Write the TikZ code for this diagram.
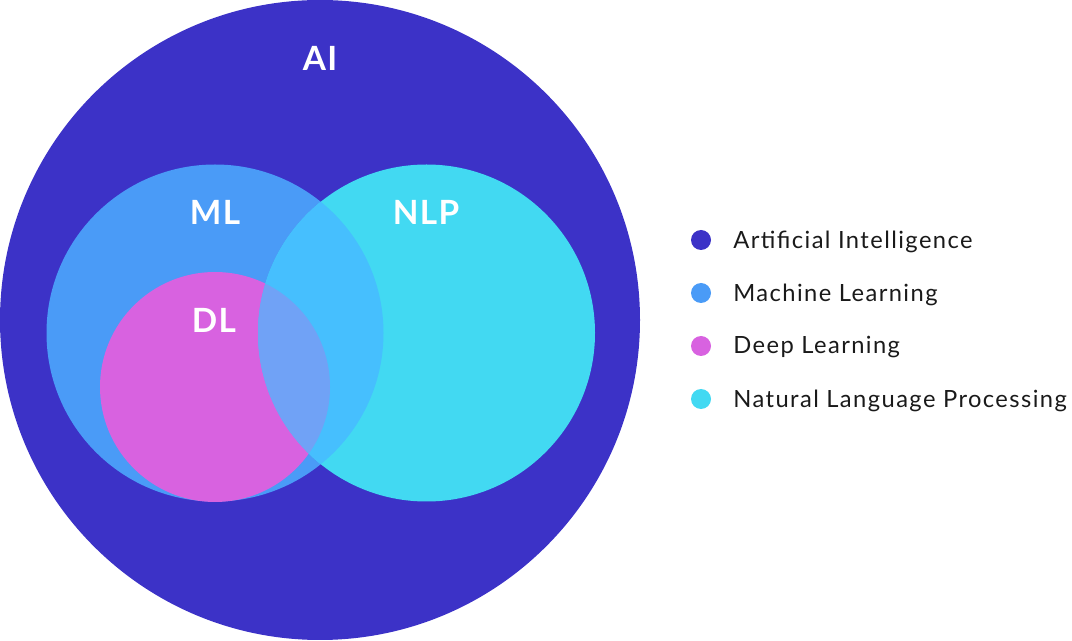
\documentclass[tikz,border=0pt]{standalone}
\usepackage{fontspec}
\setmainfont{Lato}[LetterSpace=4]
\usepackage{xcolor}
\usetikzlibrary{positioning}
\definecolor{aicol}{HTML}{3C32C7}
\definecolor{mlcol}{HTML}{4A9BF7}
\definecolor{dlcol}{HTML}{D862E0}
\definecolor{nlpcol}{HTML}{42D9F2}
\definecolor{mlnlpcol}{HTML}{46BFFE}
\definecolor{dlnlpcol}{HTML}{70A2F6}
\definecolor{legendtext}{HTML}{1A1A1A}

\begin{document}
\begin{tikzpicture}[x=0.02cm,y=-0.02cm]
            \tikzset{setlabel/.style={text=white,font=\fontsize{19}{22}\selectfont\bfseries,inner sep=0pt},
                     legenddot/.style={circle,inner sep=0pt,minimum size=0.4cm},
                     legendlabel/.style={text=legendtext,font=\fontsize{13.5}{16}\selectfont\addfontfeatures{LetterSpace=6},inner sep=0pt,anchor=west}}
            \useasboundingbox (0,0) rectangle (1072,641);
            % sets
            \fill [aicol] (320,320) circle (320);
            \fill [mlcol] (215,333) circle (168.5);
            \fill [nlpcol] (426.5,333) circle (168.5);
            \fill [dlcol] (215,387) circle (115);
            \begin{scope}
            \clip (426.5,333) circle (168.5);
            \fill [mlnlpcol] (215,333) circle (168.5);
            \fill [dlnlpcol] (215,387) circle (115);
            \end{scope}
            % set names
            \node [setlabel] (ai) at (320,58) {AI};
            \node [setlabel] (ml) at (215,212) {ML};
            \node [setlabel] (nlp) at (426,212) {NLP};
            \node [setlabel] (dl) at (214,320) {DL};
            % legend
            \node [legenddot,fill=aicol] (dotai) at (701,240) {};
            \node [legenddot,fill=mlcol] (dotml) at (701,293) {};
            \node [legenddot,fill=dlcol] (dotdl) at (701,346) {};
            \node [legenddot,fill=nlpcol] (dotnlp) at (701,399) {};
            \node [legendlabel] (txtai) at (733,241.5) {Artificial Intelligence};
            \node [legendlabel] (txtml) at (733,294.5) {Machine Learning};
            \node [legendlabel] (txtdl) at (733,347.5) {Deep Learning};
            \node [legendlabel] (txtnlp) at (733,400.5) {Natural Language Processing};
\end{tikzpicture}
\end{document}
